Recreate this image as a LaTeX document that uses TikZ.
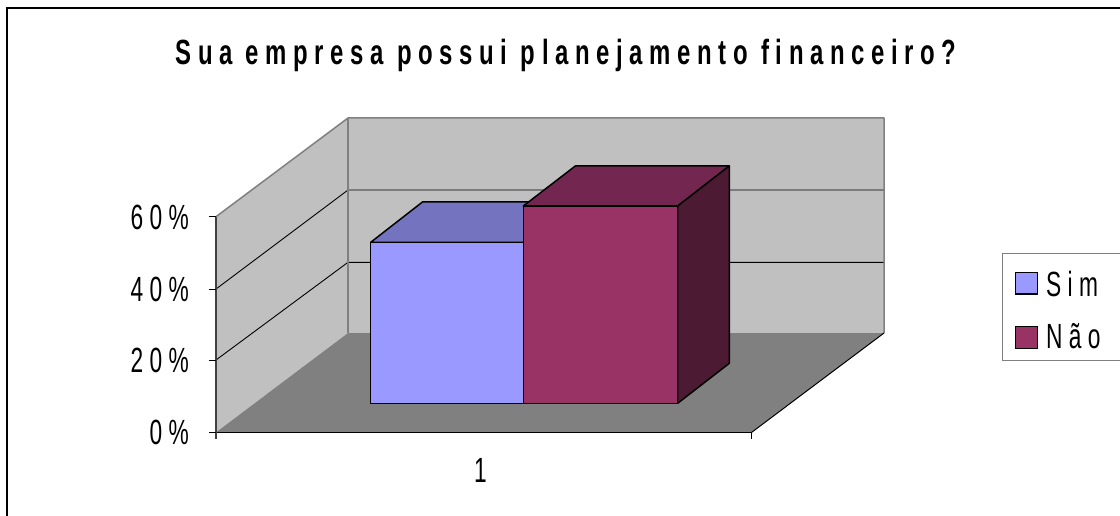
\documentclass[tikz,border=0pt]{standalone}
\usepackage{fontspec}
\setmainfont{Liberation Sans}
\newfontfamily\chartfont[FakeStretch=0.65,LetterSpace=18]{Liberation Sans}
\definecolor{wallgray}{HTML}{C0C0C0}
\definecolor{floorgray}{HTML}{808080}
\definecolor{edgegray}{HTML}{808080}
\definecolor{simfront}{HTML}{9999FF}
\definecolor{simtop}{HTML}{7373BF}
\definecolor{naofront}{HTML}{993366}
\definecolor{naotop}{HTML}{732650}
\definecolor{naoside}{HTML}{4D1A33}
\begin{document}
\begin{tikzpicture}[x=1pt,y=-1pt,
  lbl/.style={inner sep=0pt,font=\chartfont\fontsize{35}{40}\selectfont},
  ttl/.style={inner sep=0pt,font=\chartfont\bfseries\fontsize{35}{40}\selectfont},
  grid/.style={black,line width=0.9pt},
  gedge/.style={edgegray,line width=1.5pt},
  bar/.style={draw=black,line width=1.5pt,line join=round},
  tick/.style={black,line width=1pt}]
\useasboundingbox (0,0) rectangle (1120,516);
\clip (0,0) rectangle (1120,516);
\fill[white] (0,0) rectangle (1120,516);
\draw[black,line width=1.5pt] (7,8) rectangle (1140,540);
% walls and floor
\fill[wallgray] (348,118) rectangle (884,333);
\fill[wallgray] (216,216.7) -- (348,118) -- (348,333) -- (216,432.3) -- cycle;
\fill[floorgray] (216,432.3) -- (348,333) -- (884,333) -- (751.7,432.3) -- cycle;
% gridlines
\draw[grid] (216,360) -- (348,262.3) -- (884,262.3);
\draw[grid] (216,289) -- (348,190) -- (884,190);
% wall edges
\draw[gedge,line join=round] (216,216.7) -- (348,118) -- (884,118) -- (884,333);
\draw[gedge] (348,118) -- (348,333);
\draw[black,line width=1pt] (751.7,432.3) -- (884,333);
\draw[black,line width=1.2pt] (216,432.3) -- (751.7,432.3);
\draw[black!75,line width=1.2pt] (216,216.7) -- (216,439);
\draw[tick] (751.7,432.3) -- (751.7,439);
\foreach \yy in {216.7,289,360,432.3} \draw[tick] (209,\yy) -- (216,\yy);
% bar Sim
\filldraw[bar,fill=simtop] (370.7,242.3) -- (422.7,201.8) -- (575.3,201.8) -- (523.3,242.3) -- cycle;
\filldraw[bar,fill=simfront] (370.7,242.3) rectangle (523.3,403.3);
% bar Nao
\filldraw[bar,fill=naotop] (523.3,206) -- (575.3,166) -- (729.3,166) -- (677.7,206) -- cycle;
\filldraw[bar,fill=naoside] (677.7,206) -- (729.3,166) -- (729.3,363.3) -- (677.7,403.3) -- cycle;
\filldraw[bar,fill=naofront] (523.3,206) rectangle (677.7,403.3);
% labels
\node[ttl,anchor=base] (title) at (566,65) {\resizebox{781pt}{\height}{Sua empresa possui planejamento financeiro?}};
\node[lbl,anchor=base east] (y60) at (189,229.2) {60\%};
\node[lbl,anchor=base east] (y40) at (189,301.5) {40\%};
\node[lbl,anchor=base east] (y20) at (189,372.5) {20\%};
\node[lbl,anchor=base east] (y0) at (189,444.8) {0\%};
\node[lbl,anchor=base] (x1) at (480.5,482) {1};
% legend
\draw[edgegray,line width=1.2pt] (1002.7,253.3) rectangle (1140,360.7);
\filldraw[draw=black,line width=1.3pt,fill=simfront] (1015.7,272.7) rectangle (1037.3,294);
\filldraw[draw=black,line width=1.3pt,fill=naofront] (1015.7,326.7) rectangle (1037.3,348.7);
\node[lbl,anchor=base west] (legsim) at (1046,296.5) {Sim};
\node[lbl,anchor=base west] (legnao) at (1046,348.5) {Não};
\end{tikzpicture}
\end{document}
